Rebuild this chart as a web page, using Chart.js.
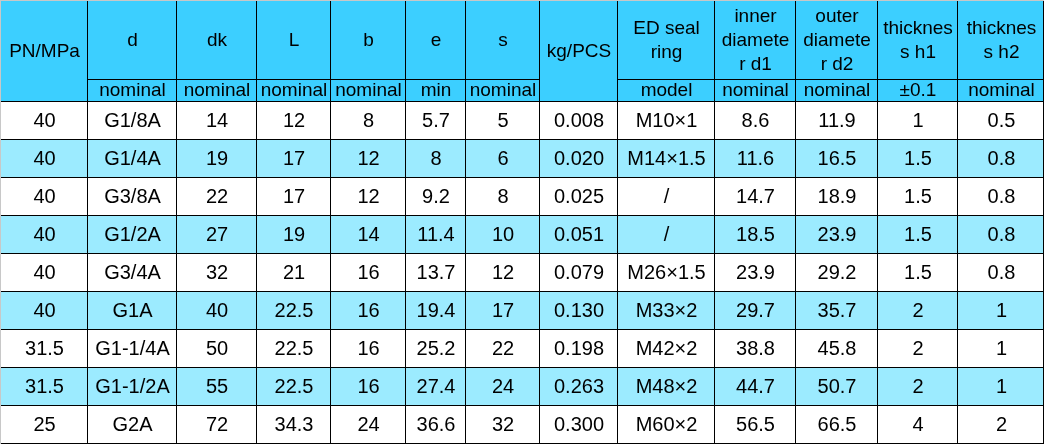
<!DOCTYPE html>
<html>
<head>
<meta charset="utf-8">
<script src="https://cdn.jsdelivr.net/npm/chart.js@4.4.1/dist/chart.umd.min.js"></script>
<style>
  html, body { margin: 0; padding: 0; background: #fff; }
  #wrap { width: 1044px; height: 444px; }
</style>
</head>
<body>
<div id="wrap"><canvas id="specTable"></canvas></div>
<script>
// header texts (wrapped like the sheet does it)
const headers = [
  ['PN/MPa'], ['d'], ['dk'], ['L'], ['b'], ['e'], ['s'], ['kg/PCS'],
  ['ED seal', 'ring'], ['inner', 'diamete', 'r d1'], ['outer', 'diamete', 'r d2'],
  ['thicknes', 's h1'], ['thicknes', 's h2']
];
const subHeaders = ['', 'nominal', 'nominal', 'nominal', 'nominal', 'min', 'nominal', '', 'model', 'nominal', 'nominal', '±0.1', 'nominal'];

// table values, one list per column
const pressure = ['40', '40', '40', '40', '40', '40', '31.5', '31.5', '25'];
const thread = ['G1/8A', 'G1/4A', 'G3/8A', 'G1/2A', 'G3/4A', 'G1A', 'G1-1/4A', 'G1-1/2A', 'G2A'];
const dk = [14, 19, 22, 27, 32, 40, 50, 55, 72];
const lengthL = [12, 17, 17, 19, 21, 22.5, 22.5, 22.5, 34.3];
const widthB = [8, 12, 12, 14, 16, 16, 16, 16, 24];
const minE = [5.7, 8, 9.2, 11.4, 13.7, 19.4, 25.2, 27.4, 36.6];
const sizeS = [5, 6, 8, 10, 12, 17, 22, 24, 32];
const weight = ['0.008', '0.020', '0.025', '0.051', '0.079', '0.130', '0.198', '0.263', '0.300'];
const sealRing = ['M10×1', 'M14×1.5', '/', '/', 'M26×1.5', 'M33×2', 'M42×2', 'M48×2', 'M60×2'];
const innerD1 = [8.6, 11.6, 14.7, 18.5, 23.9, 29.7, 38.8, 44.7, 56.5];
const outerD2 = [11.9, 16.5, 18.9, 23.9, 29.2, 35.7, 45.8, 50.7, 66.5];
const thickH1 = [1, 1.5, 1.5, 1.5, 1.5, 2, 2, 2, 4];
const thickH2 = [0.5, 0.8, 0.8, 0.8, 0.8, 1, 1, 1, 2];

const columns = [pressure, thread, dk, lengthL, widthB, minE, sizeS, weight, sealRing, innerD1, outerD2, thickH1, thickH2];

// layout (sheet units = scale units)
const colEdges = [0, 87, 176, 256, 330, 405, 465, 539, 617, 714, 795, 877, 957, 1044];
const headTop = 79, headBottom = 101, rowHeight = 38;
const mergedCols = [0, 7];

const HEAD_BG = '#3ccfff';
const ALT_BG = '#9cebff';
const FONT = '"Liberation Sans", Arial, sans-serif';

const tablePlugin = {
  id: 'tablePlugin',
  afterDraw(chart) {
    const { ctx, scales: { x, y } } = chart;
    const px = v => Math.round(x.getPixelForValue(v));
    const py = v => Math.round(y.getPixelForValue(v));
    const nRows = pressure.length;
    const rowEdge = i => headBottom + i * rowHeight;

    ctx.save();

    // backgrounds
    ctx.fillStyle = HEAD_BG;
    ctx.fillRect(px(0), py(0), px(1044) - px(0), py(headBottom) - py(0));
    for (let r = 0; r < nRows; r++) {
      ctx.fillStyle = r % 2 ? ALT_BG : '#ffffff';
      ctx.fillRect(px(0), py(rowEdge(r)), px(1044) - px(0), py(rowEdge(r + 1)) - py(rowEdge(r)));
    }

    // grid
    ctx.strokeStyle = '#000';
    ctx.lineWidth = 1;
    ctx.beginPath();
    for (let c = 1; c < colEdges.length - 1; c++) {
      const xx = px(colEdges[c]) + 0.5;
      ctx.moveTo(xx, py(0));
      ctx.lineTo(xx, py(444));
    }
    for (let c = 0; c < colEdges.length - 1; c++) {
      if (mergedCols.includes(c)) continue;
      ctx.moveTo(px(colEdges[c]), py(headTop) + 0.5);
      ctx.lineTo(px(colEdges[c + 1]) + 1, py(headTop) + 0.5);
    }
    for (let r = 0; r < nRows; r++) {
      const yy = py(rowEdge(r)) + 0.5;
      ctx.moveTo(px(0), yy);
      ctx.lineTo(px(1044), yy);
    }
    // right / bottom border
    ctx.moveTo(px(1044) - 0.5, py(0));
    ctx.lineTo(px(1044) - 0.5, py(444));
    ctx.moveTo(px(0), py(444) - 0.5);
    ctx.lineTo(px(1044), py(444) - 0.5);
    ctx.stroke();

    // faint top / left edge
    ctx.strokeStyle = '#c8c8c8';
    ctx.beginPath();
    ctx.moveTo(px(0), py(0) + 0.5);
    ctx.lineTo(px(1044), py(0) + 0.5);
    ctx.moveTo(px(0) + 0.5, py(0));
    ctx.lineTo(px(0) + 0.5, py(444));
    ctx.stroke();

    // text
    ctx.fillStyle = '#000';
    ctx.textAlign = 'center';
    ctx.textBaseline = 'middle';
    ctx.font = '19px ' + FONT;
    const lineGap = 24;
    headers.forEach((lines, c) => {
      const cx = (px(colEdges[c]) + px(colEdges[c + 1])) / 2 + 1;
      const bottom = mergedCols.includes(c) ? headBottom : headTop;
      const cy = (py(0) + py(bottom)) / 2 + 1;
      lines.forEach((t, i) => {
        ctx.fillText(t, cx, cy + (i - (lines.length - 1) / 2) * lineGap);
      });
      if (subHeaders[c]) {
        ctx.fillText(subHeaders[c], cx, (py(headTop) + py(headBottom)) / 2 + 1);
      }
    });

    ctx.font = '20px ' + FONT;
    columns.forEach((col, c) => {
      const cx = (px(colEdges[c]) + px(colEdges[c + 1])) / 2 + 1;
      col.forEach((v, r) => {
        const cy = (py(rowEdge(r)) + py(rowEdge(r + 1))) / 2 + 1;
        ctx.fillText(String(v), cx, cy);
      });
    });

    ctx.restore();
  }
};

new Chart(document.getElementById('specTable'), {
  type: 'scatter',
  data: { datasets: [{ data: [] }] },
  options: {
    responsive: true,
    maintainAspectRatio: false,
    animation: false,
    layout: { padding: 0 },
    plugins: { legend: { display: false }, tooltip: { enabled: false } },
    scales: {
      x: { type: 'linear', min: 0, max: 1044, display: false },
      y: { type: 'linear', min: 0, max: 444, reverse: true, display: false }
    }
  },
  plugins: [tablePlugin]
});
</script>
</body>
</html>
